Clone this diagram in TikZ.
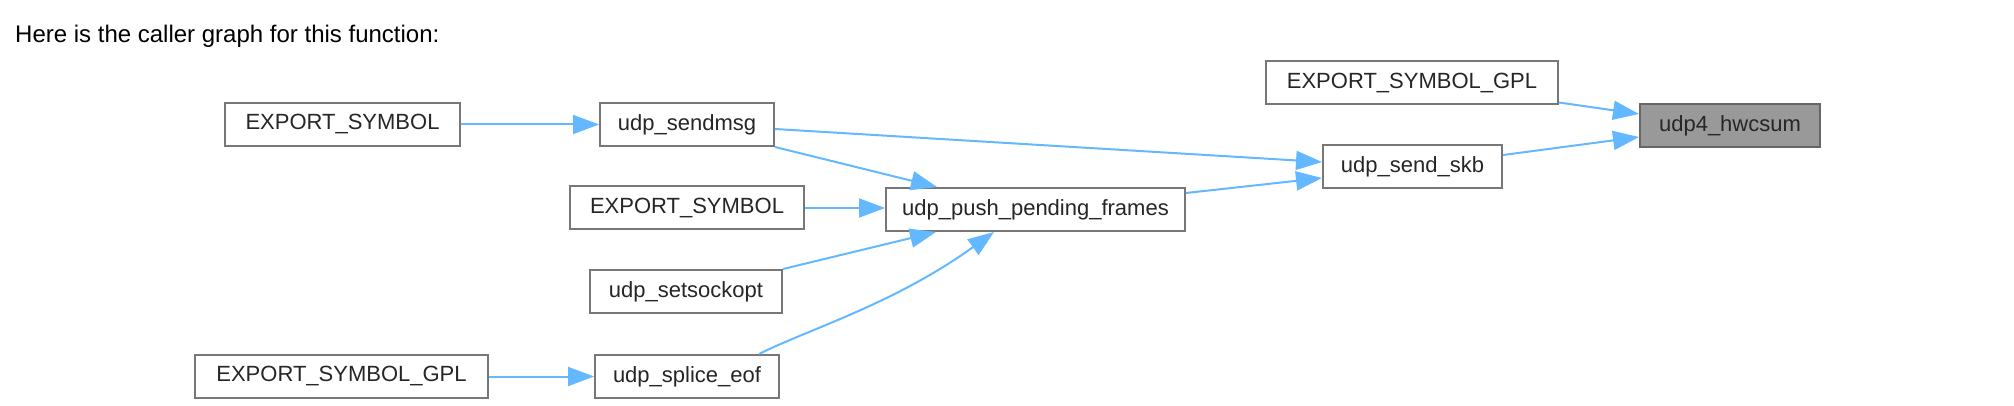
\documentclass[tikz,border=0pt]{standalone}
\usepackage{fontspec}
\setmainfont{Liberation Sans}
\usetikzlibrary{arrows.meta}
\definecolor{edgecol}{HTML}{63B8FF}
\definecolor{boxline}{HTML}{777777}
\definecolor{curfill}{HTML}{999999}
\definecolor{curline}{HTML}{666666}
\tikzset{
  fn/.style={draw=boxline, line width=2pt, fill=white, minimum height=43pt, inner sep=0pt,
    font=\fontsize{22}{26}\selectfont, text=black!85},
  cur/.style={fn, fill=curfill, draw=curline},
  call/.style={draw=edgecol, line width=2pt, -{Triangle[length=26pt,width=19pt,fill=edgecol]}},
}
\begin{document}
\begin{tikzpicture}[x=1pt,y=-1pt]
\useasboundingbox (0,0) rectangle (2014,406);
\node[anchor=base west, font=\fontsize{24}{28}\selectfont, inner sep=0pt] (title) at (15,43) {Here is the caller graph for this function:};
% nodes
\node[fn, minimum width=235pt] (es1) at (342.5,124.5) {EXPORT\_SYMBOL};
\node[fn, minimum width=174pt] (sendmsg) at (687,124.5) {udp\_sendmsg};
\node[fn, minimum width=292pt] (esgtop) at (1412,83) {EXPORT\_SYMBOL\_GPL};
\node[cur, minimum width=180pt] (hw) at (1730,125.5) {udp4\_hwcsum};
\node[fn, minimum width=179pt] (skb) at (1412.5,166.5) {udp\_send\_skb};
\node[fn, minimum width=234pt] (es2) at (687,208) {EXPORT\_SYMBOL};
\node[fn, minimum width=299pt] (push) at (1035.5,209.5) {udp\_push\_pending\_frames};
\node[fn, minimum width=192pt] (sso) at (686,291.5) {udp\_setsockopt};
\node[fn, minimum width=293pt] (esgbot) at (341.5,376.5) {EXPORT\_SYMBOL\_GPL};
\node[fn, minimum width=184pt] (splice) at (687,376.5) {udp\_splice\_eof};
% edges
\draw[call] (es1.east) -- (sendmsg.west);
\draw[call] ([yshift=-4.5pt]sendmsg.east) -- ([yshift=4.5pt]skb.west);
\draw[call] (sendmsg.south east) -- ([xshift=52pt]push.north west);
\draw[call] (es2.east) -- (es2.east -| push.west);
\draw[call] (sso.north east) -- ([xshift=51pt]push.south west);
\draw[call] ([xshift=165pt]splice.north west) .. controls +(50pt,25pt) and +(-100pt,-72pt) .. ([xshift=109pt]push.south west);
\draw[call] (esgbot.east) -- (splice.west);
\draw[call] ([yshift=-6pt]push.north east) -- ([yshift=-11.5pt]skb.west);
\draw[call] ([yshift=3pt]esgtop.south east) -- ([yshift=11.5pt]hw.west);
\draw[call] ([yshift=-11pt]skb.north east) -- ([yshift=-11.5pt]hw.west);
\end{tikzpicture}
\end{document}
